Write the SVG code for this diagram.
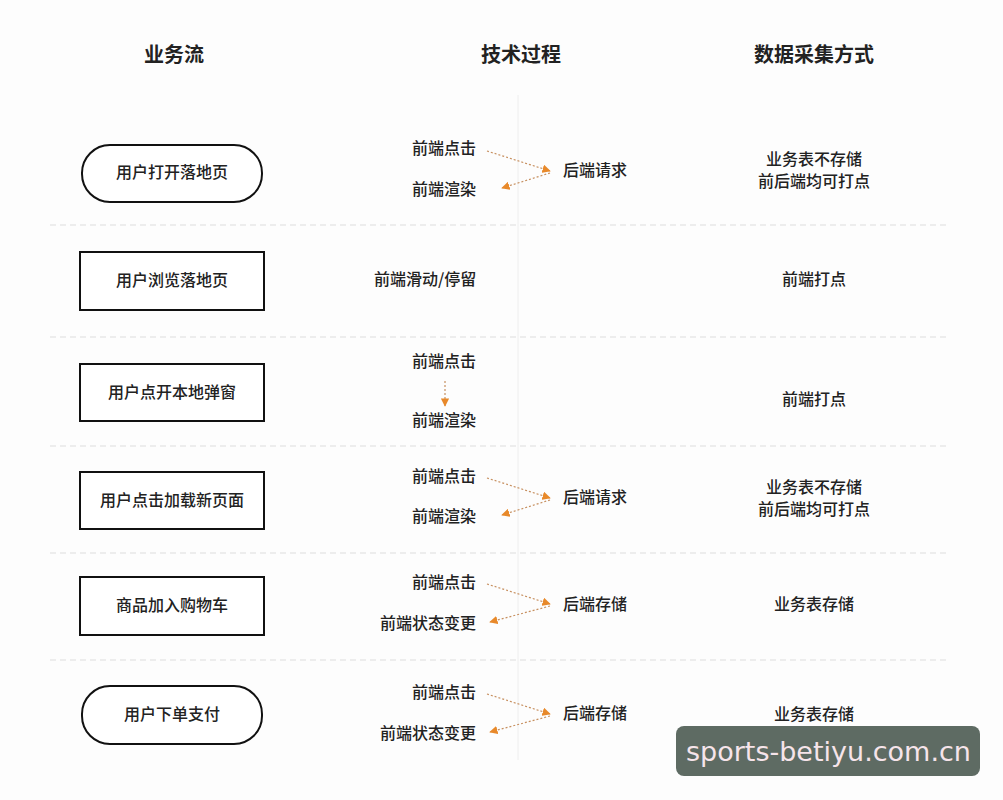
<svg xmlns="http://www.w3.org/2000/svg" width="1003" height="800" viewBox="0 0 1003 800">
<style>
text{font-family:"Noto Sans CJK SC","Noto Sans",sans-serif;fill:#222;font-size:16px;font-weight:500}
.h{font-size:20px;font-weight:bold;text-anchor:middle}
.n{fill:#fff;stroke:#111;stroke-width:2}
.c{text-anchor:middle}
.sep{stroke:#ddd;stroke-dasharray:6 4;stroke-width:1}
.a{stroke:#c79060;stroke-width:1.2;stroke-dasharray:2 2;fill:none;marker-end:url(#m)}
</style>
<defs><marker id="m" viewBox="0 0 10 10" refX="9" refY="5" markerWidth="7" markerHeight="7" orient="auto"><path d="M0,0L10,5L0,10z" fill="#e8892a"/></marker></defs>
<rect width="1003" height="800" fill="#fdfdfd"/>
<text class="h" x="174" y="62">业务流</text>
<text class="h" x="521" y="62">技术过程</text>
<text class="h" x="814" y="62">数据采集方式</text>
<g id="grid">
<line x1="518" y1="95" x2="518" y2="760" stroke="#eee"/>
<line class="sep" x1="50" y1="225" x2="950" y2="225"/>
<line class="sep" x1="50" y1="337" x2="950" y2="337"/>
<line class="sep" x1="50" y1="446" x2="950" y2="446"/>
<line class="sep" x1="50" y1="553" x2="950" y2="553"/>
<line class="sep" x1="50" y1="660" x2="950" y2="660"/>
</g>
<g id="n1"><rect class="n" x="82" y="145" width="180" height="57" rx="28"/><text class="c" x="172" y="178">用户打开落地页</text></g>
<g id="n2"><rect class="n" x="80" y="252" width="184" height="58"/><text class="c" x="172" y="286">用户浏览落地页</text></g>
<g id="n3"><rect class="n" x="80" y="364" width="184" height="57"/><text class="c" x="172" y="398">用户点开本地弹窗</text></g>
<g id="n4"><rect class="n" x="80" y="472" width="184" height="57"/><text class="c" x="172" y="506">用户点击加载新页面</text></g>
<g id="n5"><rect class="n" x="80" y="577" width="184" height="58"/><text class="c" x="172" y="611">商品加入购物车</text></g>
<g id="n6"><rect class="n" x="82" y="686" width="180" height="58" rx="28"/><text class="c" x="172" y="720">用户下单支付</text></g>
<g id="tech">
<text x="412" y="154">前端点击</text><text x="563" y="176">后端请求</text><text x="412" y="195">前端渲染</text>
<text x="374" y="285">前端滑动/停留</text>
<text x="412" y="367">前端点击</text><text x="412" y="426">前端渲染</text>
<text x="412" y="482">前端点击</text><text x="563" y="503">后端请求</text><text x="412" y="522">前端渲染</text>
<text x="412" y="588">前端点击</text><text x="563" y="610">后端存储</text><text x="380" y="629">前端状态变更</text>
<text x="412" y="698">前端点击</text><text x="563" y="719">后端存储</text><text x="380" y="739">前端状态变更</text>
</g>
<g id="data">
<text class="c" x="814" y="165">业务表不存储</text><text class="c" x="814" y="187">前后端均可打点</text>
<text class="c" x="814" y="285">前端打点</text>
<text class="c" x="814" y="405">前端打点</text>
<text class="c" x="814" y="493">业务表不存储</text><text class="c" x="814" y="515">前后端均可打点</text>
<text class="c" x="814" y="610">业务表存储</text>
<text class="c" x="814" y="720">业务表存储</text>
</g>
<g id="connectors">
<path class="a" d="M487,151L550,171"/><path class="a" d="M550,173L502,188"/>
<path class="a" d="M445,381L445,406"/>
<path class="a" d="M487,478L550,498"/><path class="a" d="M550,500L502,515"/>
<path class="a" d="M487,584L550,604"/><path class="a" d="M550,606L490,622"/>
<path class="a" d="M487,694L550,714"/><path class="a" d="M550,716L490,732"/>
</g>
<g id="watermark"><rect x="676" y="726" width="304" height="50" rx="8" fill="#5e6b63"/><text x="686" y="761" style="font-family:'DejaVu Sans',sans-serif;font-size:27px;font-weight:normal;fill:#f6e4ea">sports-betiyu.com.cn</text></g>
</svg>
